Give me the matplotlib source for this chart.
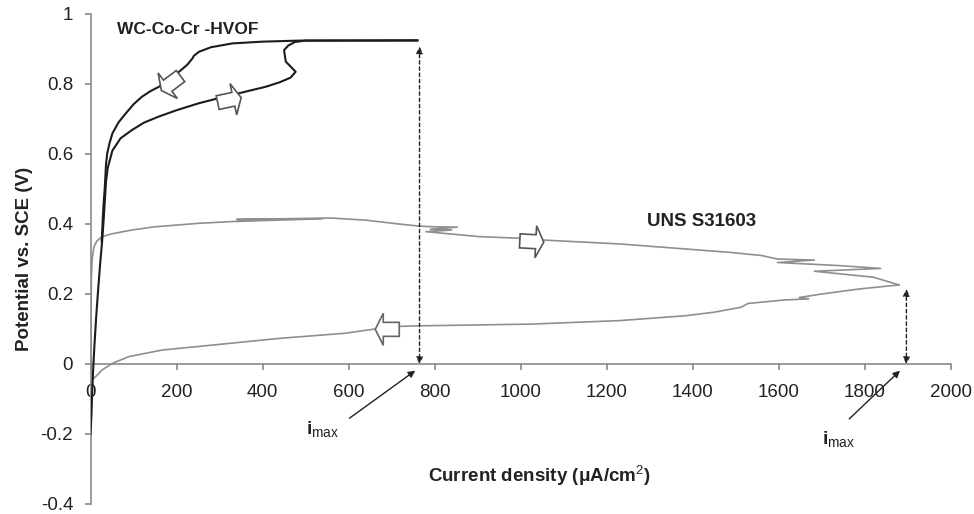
import numpy as np
import matplotlib
matplotlib.use("Agg")
import matplotlib.pyplot as plt
from matplotlib.patches import Polygon

plt.rcParams['font.family'] = ['Liberation Sans', 'DejaVu Sans']
plt.rcParams['mathtext.fontset'] = 'custom'
plt.rcParams['mathtext.rm'] = 'Liberation Sans'
plt.rcParams['mathtext.bf'] = 'Liberation Sans:bold'
plt.rcParams['mathtext.it'] = 'Liberation Sans:italic'

# WC-Co-Cr HVOF coating, forward scan (uA/cm2, V vs SCE)
wc_fwd_i = [0, 2, 4, 6, 9, 13, 17, 22, 27, 31, 34, 36, 40, 51, 70, 97, 125, 159,
            200, 252, 290, 330, 370, 407, 440, 465, 477, 465, 454, 452, 450, 460,
            475, 500, 760]
wc_fwd_e = [-0.20, -0.15, -0.08, -0.02, 0.05, 0.13, 0.20, 0.28, 0.35, 0.42, 0.48,
            0.52, 0.56, 0.61, 0.645, 0.669, 0.69, 0.707, 0.725, 0.745, 0.757, 0.769,
            0.781, 0.792, 0.805, 0.818, 0.835, 0.85, 0.864, 0.88, 0.897, 0.91,
            0.92, 0.924, 0.924]
# WC-Co-Cr HVOF coating, reverse scan
wc_rev_i = [760, 485, 400, 330, 280, 252, 240, 237, 225, 206, 185, 159, 140, 120,
            100, 82, 65, 51, 44, 39, 36, 35, 33, 30, 28, 26]
wc_rev_e = [0.925, 0.924, 0.921, 0.916, 0.905, 0.892, 0.88, 0.873, 0.855, 0.835,
            0.815, 0.792, 0.78, 0.764, 0.742, 0.716, 0.69, 0.659, 0.63, 0.602,
            0.57, 0.545, 0.50, 0.45, 0.40, 0.35]

# UNS S31603 stainless steel, forward scan
ss_fwd_i = [2, 1, 2, 4, 8, 15, 27, 50, 97, 150, 252, 330, 540, 340, 560, 640, 717,
            764, 800, 853, 790, 840, 780, 903, 1004, 1040, 1230, 1486, 1560, 1597,
            1683, 1597, 1743, 1837, 1683, 1820, 1880]
ss_fwd_e = [-0.03, 0.10, 0.25, 0.30, 0.335, 0.352, 0.364, 0.372, 0.383, 0.392,
            0.402, 0.407, 0.415, 0.413, 0.417, 0.411, 0.400, 0.394, 0.392, 0.391,
            0.385, 0.383, 0.378, 0.364, 0.359, 0.355, 0.343, 0.319, 0.310, 0.300,
            0.297, 0.290, 0.281, 0.273, 0.265, 0.248, 0.226]
# UNS S31603 stainless steel, reverse scan
ss_rev_i = [1880, 1785, 1700, 1648, 1670, 1614, 1529, 1512, 1450, 1384, 1230,
            1025, 763, 702, 593, 437, 283, 167, 89, 51, 27, 12, 4]
ss_rev_e = [0.226, 0.214, 0.200, 0.190, 0.186, 0.183, 0.173, 0.162, 0.148, 0.138,
            0.124, 0.114, 0.109, 0.107, 0.088, 0.073, 0.054, 0.040, 0.021, 0.002,
            -0.017, -0.036, -0.045]

# maximum current densities and the potentials they are read at
imax_wc, e_top_wc = 765, 0.907
imax_ss, e_top_ss = 1897, 0.214

x_ticks = [0, 200, 400, 600, 800, 1000, 1200, 1400, 1600, 1800, 2000]
y_ticks = [-0.4, -0.2, 0, 0.2, 0.4, 0.6, 0.8, 1]
y_tick_labels = ['-0.4', '-0.2', '0', '0.2', '0.4', '0.6', '0.8', '1']

axis_grey = '#8a8a8a'
text_col = '#222222'

fig = plt.figure(figsize=(9.74, 5.14), dpi=100)
ax = fig.add_axes([90.5 / 974, 10 / 514, 860.2 / 974, 490 / 514])
ax.set_xlim(0, 2000)
ax.set_ylim(-0.4, 1)

ax.plot(ss_fwd_i, ss_fwd_e, color='#8f8f8f', lw=1.2, zorder=2)
ax.plot(ss_rev_i, ss_rev_e, color='#8f8f8f', lw=1.2, zorder=2)
ax.plot(wc_fwd_i, wc_fwd_e, color='#1c1c1c', lw=1.5, zorder=3)
ax.plot(wc_rev_i, wc_rev_e, color='#1c1c1c', lw=1.5, zorder=3)

# axes crossing at zero, Excel-like
for side in ['top', 'right']:
    ax.spines[side].set_visible(False)
ax.spines['left'].set_position(('data', 0))
ax.spines['bottom'].set_position(('data', 0))
for side in ['left', 'bottom']:
    ax.spines[side].set_color(axis_grey)
    ax.spines[side].set_linewidth(1.2)
ax.set_xticks(x_ticks)
ax.set_xticklabels([str(t) for t in x_ticks])
ax.set_yticks(y_ticks)
ax.set_yticklabels(y_tick_labels)
ax.tick_params(axis='both', direction='out', length=4.5, width=1.2, color=axis_grey,
               labelsize=13.5, labelcolor=text_col)
ax.tick_params(axis='x', pad=10)
ax.tick_params(axis='y', pad=8)

# dashed markers down to the current axis at i_max
dash_kw = dict(arrowstyle='<|-|>', color='#222222', lw=1, linestyle=(0, (2.5, 2)),
               mutation_scale=10, shrinkA=0, shrinkB=0)
ax.annotate('', xy=(imax_wc, 0), xytext=(imax_wc, e_top_wc), arrowprops=dash_kw)
ax.annotate('', xy=(imax_ss, 0), xytext=(imax_ss, e_top_ss), arrowprops=dash_kw)

imax_kw = dict(arrowstyle='-|>', color='#222222', lw=1, mutation_scale=10,
               shrinkA=0, shrinkB=0)
ax.annotate('', xy=(755, -0.019), xytext=(602, -0.155), arrowprops=imax_kw)
ax.annotate('', xy=(1882, -0.019), xytext=(1764, -0.157), arrowprops=imax_kw)
ax.text(500, -0.185, r'$\mathbf{i}_{\mathrm{max}}$', fontsize=14, color=text_col,
        ha='left', va='center')
ax.text(1700, -0.213, r'$\mathbf{i}_{\mathrm{max}}$', fontsize=14, color=text_col,
        ha='left', va='center')

ax.text(62, 0.955, 'WC-Co-Cr -HVOF', fontsize=12.5, fontweight='bold',
        color=text_col, ha='left', va='center')
ax.text(1295, 0.406, 'UNS S31603', fontsize=13.5, fontweight='bold',
        color=text_col, ha='left', va='center')


def scan_arrow(x, y, angle, color):
    # hollow block arrow showing the scan direction, sized in pixels
    pts = np.array([[-12, -7], [4, -7], [4, -16], [12, 0], [4, 16], [4, 7],
                    [-12, 7]], dtype=float)
    a = np.deg2rad(angle)
    rot = np.array([[np.cos(a), -np.sin(a)], [np.sin(a), np.cos(a)]])
    cx, cy = ax.transData.transform((x, y))
    disp = pts @ rot.T + [cx, cy]
    data = ax.transData.inverted().transform(disp)
    ax.add_patch(Polygon(data, closed=True, facecolor='white', edgecolor=color,
                         lw=1.2, zorder=5))


scan_arrow(187, 0.802, 217, '#555555')
scan_arrow(323, 0.754, 12, '#555555')
scan_arrow(1026, 0.35, -3, '#555555')
scan_arrow(690, 0.099, 180, '#666666')

fig.text(25 / 974, 1 - 259 / 514, 'Potential vs. SCE (V)', rotation=90,
         fontsize=13.5, fontweight='bold', color=text_col, ha='center', va='center')
fig.text(539 / 974, 1 - 476 / 514, r'Current density (μA/cm$^{2}$)',
         fontsize=13.5, fontweight='bold', color=text_col, ha='center', va='center')

fig.savefig('out.png', dpi=100, facecolor='white')
